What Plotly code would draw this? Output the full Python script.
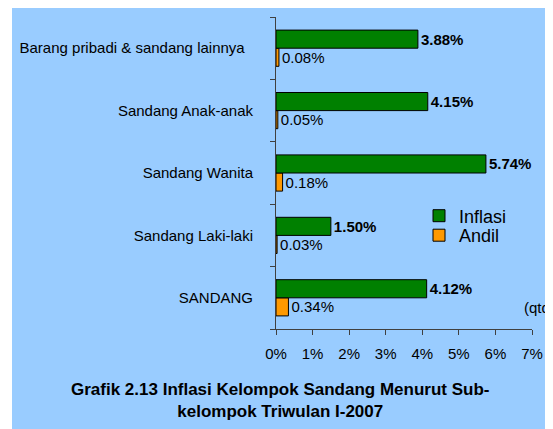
import plotly.graph_objects as go

categories = ["SANDANG", "Sandang Laki-laki", "Sandang Wanita",
              "Sandang Anak-anak", "Barang pribadi & sandang lainnya"]
category_labels = ["SANDANG", "Sandang Laki-laki", "Sandang Wanita",
                   "Sandang Anak-anak", "Barang pribadi & sandang lainnya\u00a0\u00a0"]
inflasi = [4.12, 1.50, 5.74, 4.15, 3.88]
andil = [0.34, 0.03, 0.18, 0.05, 0.08]
x_ticks = [0, 1, 2, 3, 4, 5, 6, 7]
x_tick_labels = ["0%", "1%", "2%", "3%", "4%", "5%", "6%", "7%"]
title_text = "Grafik 2.13 Inflasi Kelompok Sandang Menurut Sub-<br>kelompok Triwulan I-2007"
unit_text = "(qtq)"

FONT = "Liberation Sans, Arial, sans-serif"
BLUE = "#99CCFF"

OFF = 8  # default page body margin
W, H = 553 - OFF, 429 - OFF
L, T = 276 - OFF, 17 - OFF
R = W - (532 - OFF)
B = H - (329 - OFF)
pw, ph = W - L - R, H - T - B

def px(x):
    return (x - OFF - L) / pw

def py(y):
    return (H - B - (y - OFF)) / ph

fig = go.Figure()
fig.add_trace(go.Bar(
    y=categories, x=andil, orientation="h", name="Andil",
    marker=dict(color="#FF9900", line=dict(color="#000000", width=1)),
    text=[f"{v:.2f}%" for v in andil], textposition="outside",
    textfont=dict(family=FONT, size=15, color="#000000"),
    constraintext="none", cliponaxis=False, legend="legend2", showlegend=True,
))
fig.add_trace(go.Bar(
    y=categories, x=inflasi, orientation="h", name="Inflasi",
    marker=dict(color="#008000", line=dict(color="#000000", width=1)),
    text=[f"<b>{v:.2f}%</b>" for v in inflasi], textposition="outside",
    textfont=dict(family=FONT, size=15, color="#000000"),
    constraintext="none", cliponaxis=False, legend="legend", showlegend=True,
))

fig.update_layout(
    width=W, height=H, showlegend=True,
    margin=dict(l=L, r=R, t=T, b=B, pad=0),
    paper_bgcolor="#FFFFFF", plot_bgcolor="#FFFFFF",
    barmode="group", bargap=0.42, bargroupgap=0,
    font=dict(family=FONT, size=15, color="#000000"),
    xaxis=dict(range=[0, 7], tickmode="array", tickvals=x_ticks,
               ticktext=x_tick_labels,
               showgrid=False, zeroline=False, showline=True,
               linecolor="#404040", linewidth=1, ticks="outside",
               ticklen=5, tickcolor="#404040", ticklabelstandoff=6,
               tickfont=dict(family=FONT, size=15, color="#000000")),
    yaxis=dict(type="category", categoryorder="array", categoryarray=categories,
               tickmode="array", tickvals=categories, ticktext=category_labels,
               showgrid=False, zeroline=False, showline=True,
               linecolor="#404040", linewidth=1, ticks="outside",
               tickson="boundaries", ticklen=5, tickcolor="#404040",
               ticklabelstandoff=19,
               tickfont=dict(family=FONT, size=15, color="#000000")),
    legend=dict(x=px(419), y=py(197.5), xanchor="left", yanchor="top",
                bgcolor="rgba(0,0,0,0)", borderwidth=0,
                font=dict(family=FONT, size=18, color="#000000")),
    legend2=dict(x=px(419), y=py(217), xanchor="left", yanchor="top",
                 bgcolor="rgba(0,0,0,0)", borderwidth=0,
                 font=dict(family=FONT, size=18, color="#000000")),
    shapes=[dict(type="rect", xref="paper", yref="paper",
                 x0=px(12), x1=px(560), y0=py(440), y1=py(1),
                 fillcolor=BLUE, line=dict(width=0), layer="below")],
    annotations=[
        dict(text=title_text, xref="paper", yref="paper",
             x=px(280), y=py(378), xanchor="center", yanchor="top",
             showarrow=False, align="center",
             font=dict(family=FONT, size=17, color="#000000", weight="bold")),
        dict(text=unit_text, xref="paper", yref="paper",
             x=px(524), y=py(307), xanchor="left", yanchor="middle",
             showarrow=False, borderpad=0, borderwidth=0,
             font=dict(family=FONT, size=15, color="#000000")),
    ],
)

fig.write_html("out.html")
